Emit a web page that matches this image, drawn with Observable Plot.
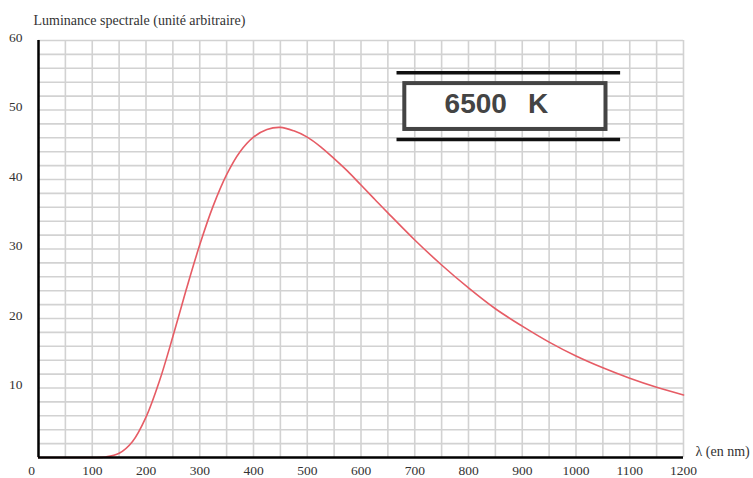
<!DOCTYPE html>
<html>
<head>
<meta charset="utf-8">
<script src="https://cdn.jsdelivr.net/npm/d3@7"></script>
<script src="https://cdn.jsdelivr.net/npm/@observablehq/plot@0.6"></script>
<style>
  html, body { margin: 0; padding: 0; background: #fff; overflow: hidden; }
  #chart svg { font-family: "Liberation Serif", "Times New Roman", serif; }
</style>
</head>
<body>
<div id="chart"></div>
<script>
// Spectral curve (nm, arbitrary units)
const wavelength = [0, 50, 100, 125, 150, 175, 200, 225, 250, 275, 300, 325, 350, 375, 400, 425, 450, 475, 500, 525, 550, 575, 600, 625, 650, 700, 750, 800, 850, 900, 950, 1000, 1050, 1100, 1150, 1200];
const luminance  = [0, 0, 0, 0.08, 0.6, 2.3, 5.8, 11.0, 17.4, 24.2, 30.6, 36.2, 40.7, 44.0, 46.1, 47.2, 47.5, 47.0, 46.1, 44.7, 43.0, 41.2, 39.2, 37.2, 35.2, 31.3, 27.7, 24.4, 21.4, 18.9, 16.6, 14.6, 12.9, 11.4, 10.1, 9.0];

// Tick labels and grid
const xTicks = [0, 100, 200, 300, 400, 500, 600, 700, 800, 900, 1000, 1100, 1200];
const yTicks = [10, 20, 30, 40, 50, 60];
const xGrid = d3.range(50, 1201, 50);
const yGrid = d3.range(2, 61, 2);

// Texts
const titleText = ["Luminance spectrale (unité arbitraire)"];
const xLabelText = ["λ (en nm)"];

// Temperature label box (annotation, in data units)
const boxLabel = ["6500\u00a0\u00a0\u2009K"];
const boxLabelX = [852];
const boxLabelY = [50.8];
const boxRect = [{x1: 681.5, x2: 1055.8, y1: 47.2, y2: 53.8}];
const boxRules = [{y: 55.35, x1: 667, x2: 1083}, {y: 45.75, x1: 667, x2: 1083}];

const data = wavelength.map((w, i) => ({w, v: luminance[i]}));
const xTicksZero = xTicks.filter(d => d === 0);
const xTicksRest = xTicks.filter(d => d !== 0);

const chart = Plot.plot({
  width: 753,
  height: 478,
  marginLeft: 38,
  marginRight: 70,
  marginTop: 40,
  marginBottom: 21,
  style: "font-family: 'Liberation Serif', 'Times New Roman', serif; font-size: 13px; color: #333; background: #fff;",
  x: {domain: [0, 1200], axis: null},
  y: {domain: [0, 60], axis: null},
  marks: [
    Plot.gridX(xGrid, {stroke: "#d2d2d2", strokeOpacity: 1, strokeWidth: 1.6}),
    Plot.gridY(yGrid, {stroke: "#d2d2d2", strokeOpacity: 1, strokeWidth: 1.6}),
    Plot.text(xTicksRest, {x: d => d, frameAnchor: "bottom", lineAnchor: "top", dy: 8, text: d => String(d), fontSize: 13.5, fill: "#333"}),
    Plot.text(xTicksZero, {x: d => d, frameAnchor: "bottom", lineAnchor: "top", dy: 8, dx: -7, text: d => String(d), fontSize: 13.5, fill: "#333"}),
    Plot.text(yTicks, {y: d => d, frameAnchor: "left", textAnchor: "end", dx: -16, dy: -3, text: d => String(d), fontSize: 13.5, fill: "#333"}),
    Plot.line(data, {x: "w", y: "v", stroke: "#e65c65", strokeWidth: 1.6, curve: "catmull-rom"}),
    Plot.ruleX([0], {stroke: "#000", strokeWidth: 2.5}),
    Plot.ruleY([0], {stroke: "#000", strokeWidth: 2.5}),
    Plot.ruleY(boxRules, {y: "y", x1: "x1", x2: "x2", stroke: "#111", strokeWidth: 3.5}),
    Plot.rect(boxRect, {x1: "x1", x2: "x2", y1: "y1", y2: "y2", fill: "#fff", stroke: "#444", strokeWidth: 4}),
    Plot.text(boxLabel, {x: boxLabelX, y: boxLabelY, text: d => d, fontFamily: "Liberation Sans, Arial, sans-serif", fontWeight: "bold", fontSize: 28, fill: "#444"}),
    Plot.text(titleText, {frameAnchor: "top-left", text: d => d, textAnchor: "start", dx: -5, dy: -25, fontSize: 14, fill: "#333"}),
    Plot.text(xLabelText, {frameAnchor: "bottom-right", text: d => d, textAnchor: "start", dx: 12, dy: -2, fontSize: 14, fill: "#333"})
  ]
});
document.getElementById("chart").appendChild(chart);
</script>
</body>
</html>
